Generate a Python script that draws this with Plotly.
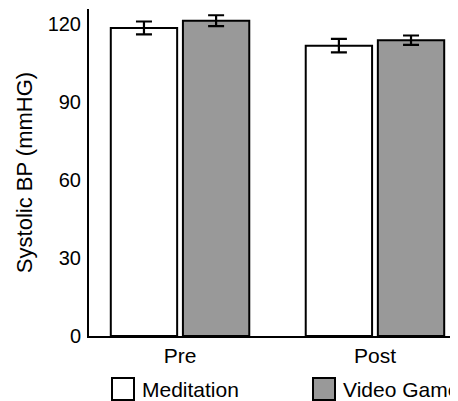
import plotly.graph_objects as go

categories = ["Pre", "Post"]
meditation = [118.5, 111.7]
meditation_err = [2.5, 2.6]
video_game = [121.3, 113.8]
video_game_err = [2.1, 1.8]
series_names = ["Meditation", "Video Game"]
series_colors = ["white", "#999999"]
y_ticks = [0, 30, 60, 90, 120]

FONT = "Liberation Sans, Arial, Helvetica, sans-serif"
W, H = 458, 401
ML, MR, MT, MB = 81, 0, 1, 73
PW, PH = W - ML - MR, H - MT - MB

fig = go.Figure()
for name, vals, errs, color in zip(series_names, [meditation, video_game],
                                   [meditation_err, video_game_err], series_colors):
    fig.add_trace(go.Bar(
        x=categories, y=vals, name=name, showlegend=False,
        marker=dict(color=color, line=dict(color="black", width=2)),
        error_y=dict(type="data", array=errs, color="black", thickness=2.2, width=8),
    ))

# legend drawn as boxes + labels below the axis (figure pixels)
legend_px = [104, 305]   # left edge of each legend box
box = 22
box_top, box_bot = 370, 392
for i, (name, color) in enumerate(zip(series_names, series_colors)):
    x0 = (legend_px[i] - ML) / PW
    x1 = (legend_px[i] + box - ML) / PW
    y0 = (MT + PH - box_bot) / PH
    y1 = (MT + PH - box_top) / PH
    fig.add_shape(type="rect", xref="paper", yref="paper", x0=x0, x1=x1, y0=y0, y1=y1,
                  fillcolor=color, line=dict(color="black", width=2))
    fig.add_annotation(text=name, xref="paper", yref="paper",
                       x=(legend_px[i] + box + 8 - ML) / PW, y=(y0 + y1) / 2,
                       xanchor="left", yanchor="middle", showarrow=False,
                       font=dict(size=21), xshift=-2)

fig.update_layout(
    width=W, height=H,
    margin=dict(l=ML, r=MR, t=MT, b=MB),
    plot_bgcolor="white", paper_bgcolor="white",
    font=dict(family=FONT, size=20, color="black"),
    barmode="group", bargap=0.26, bargroupgap=0.08,
    showlegend=False,
)
fig.update_xaxes(range=[-0.467, 1.467], showline=True, linecolor="black", linewidth=2,
                 ticks="", showgrid=False, zeroline=False, ticklabelstandoff=0,
                 tickfont=dict(size=21), automargin=False)
fig.update_yaxes(range=[0, 125.8], tickvals=y_ticks, showline=True, linecolor="black",
                 linewidth=2, ticks="", showgrid=False, zeroline=False,
                 ticklabelstandoff=2, automargin=False,
                 title=dict(text="Systolic BP (mmHG)", font=dict(size=22), standoff=9))

fig.write_html("out.html")
